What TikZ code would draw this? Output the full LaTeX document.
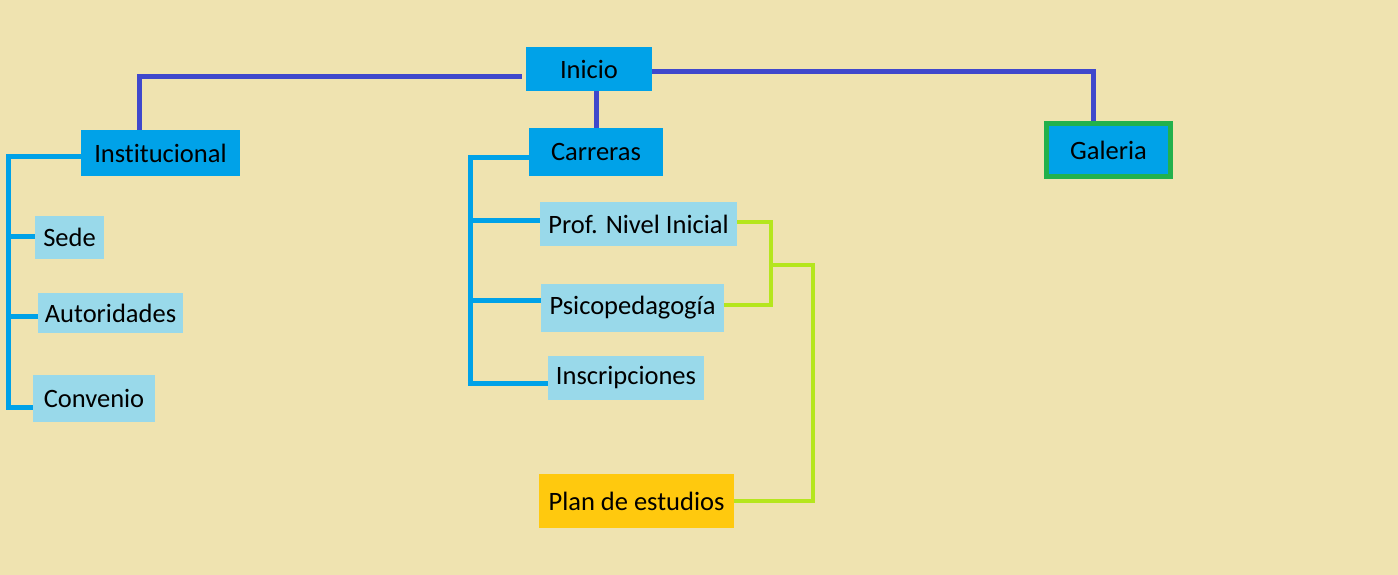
\documentclass[tikz,border=0pt]{standalone}
\usepackage{fontspec}
\setmainfont{Carlito}[Ligatures={NoCommon}]
\definecolor{paper}{HTML}{EFE3B0}
\definecolor{deepblue}{HTML}{00A2E8}
\definecolor{paleblue}{HTML}{99D9EA}
\definecolor{gold}{HTML}{FFC90E}
\definecolor{leaf}{HTML}{22B14C}
\definecolor{indigo}{HTML}{3F48CC}
\definecolor{lime}{HTML}{B5E61D}

\begin{document}
\begin{tikzpicture}[x=1pt, y=-1pt,
    menubox/.style={fill=deepblue, inner sep=0pt, font=\fontsize{26.5}{30}\selectfont},
    subbox/.style={fill=paleblue, inner sep=0pt, font=\fontsize{26.5}{30}\selectfont},
    planbox/.style={fill=gold, inner sep=0pt, font=\fontsize{26.5}{30}\selectfont},
    topline/.style={draw=indigo, line width=5pt},
    branchline/.style={draw=deepblue, line width=5pt},
    limeline/.style={draw=lime, line width=4.5pt}]
    % Background
    \fill[paper] (0, 0) rectangle (1398, 575);
    \useasboundingbox (0, 0) rectangle (1398, 575);

    % Main menu
    \node[menubox, minimum width=126pt, minimum height=44pt] (inicio) at (589, 69) {Inicio};
    \node[menubox, minimum width=159pt, minimum height=46pt] (inst) at (160.5, 153) {Institucional};
    \node[menubox, minimum width=134pt, minimum height=48pt] (carr) at (596, 152) {Carreras};
    \node[menubox, draw=leaf, line width=5pt, minimum width=124pt, minimum height=53pt] (gal) at (1108.5, 150) {Galeria};

    % Institucional
    \node[subbox, minimum width=69pt, minimum height=43pt] (sede) at (69.5, 237.5) {Sede};
    \node[subbox, minimum width=145pt, minimum height=40pt] (auto) at (110.5, 313) {Autoridades};
    \node[subbox, minimum width=122pt, minimum height=47pt] (conv) at (94, 398.5) {Convenio};

    % Carreras
    \node[subbox, minimum width=197pt, minimum height=44pt] (prof) at (638.5, 224) {Prof. Nivel Inicial};
    \node[subbox, minimum width=183pt, minimum height=48pt] (psico) at (632.5, 308) {Psicopedagogía};
    \node[subbox, minimum width=156pt, minimum height=44pt] (insc) at (626, 378) {Inscripciones};
    \node[planbox, minimum width=195pt, minimum height=54pt] (plan) at (636.5, 501) {Plan de estudios};

    \coordinate (lrail) at (8, 157);
    \coordinate (crail) at (470, 158);
    \coordinate (gjoin) at (771, 265);
    \coordinate (gend) at (813, 501);

    % Top links
    \draw[topline] ([xshift=-4pt, yshift=-8pt]inicio.west) -| ([xshift=-21.5pt]inst.north);
    \draw[topline] (inicio.south -| carr.north) -- (carr.north);
    \draw[topline] ([yshift=-3pt]inicio.east) -| ([xshift=-15.5pt]gal.north);

    % Institucional links
    \draw[branchline] ([yshift=-4pt]inst.west) -- (lrail) |- ([yshift=-8.5pt]conv.west);
    \draw[branchline] ([yshift=1.5pt]sede.west -| lrail) -- ([yshift=1.5pt]sede.west);
    \draw[branchline] ([yshift=-3pt]auto.west -| lrail) -- ([yshift=-3pt]auto.west);

    % Carreras links
    \draw[branchline] ([yshift=-6pt]carr.west) -- (crail) |- ([yshift=-5pt]insc.west);
    \draw[branchline] ([yshift=4pt]prof.west -| crail) -- ([yshift=4pt]prof.west);
    \draw[branchline] ([yshift=8pt]psico.west -| crail) -- ([yshift=8pt]psico.west);

    % Plan de estudios links
    \draw[limeline] ([yshift=2pt]prof.east) -| (gjoin) |- ([yshift=3pt]psico.east);
    \draw[limeline] (gjoin) -| (gend) -- (plan.east);
\end{tikzpicture}
\end{document}
